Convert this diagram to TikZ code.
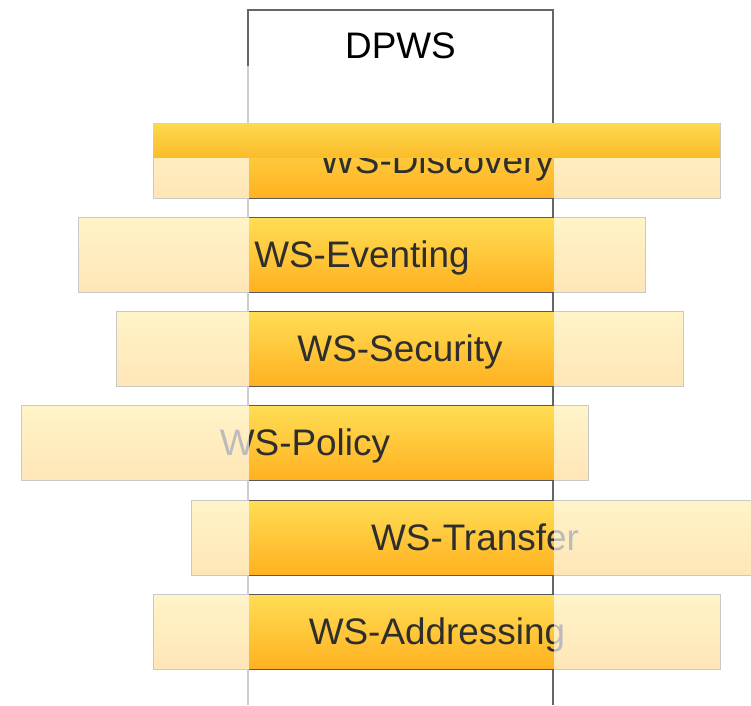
\documentclass[tikz,border=0pt]{standalone}
\usepackage{fontspec}
\setmainfont{Liberation Sans}
\usepackage{tikz}
\usetikzlibrary{positioning}

\definecolor{bartop}{HTML}{FFDD55}
\definecolor{barbot}{HTML}{FFB11F}
\definecolor{bandtop}{HTML}{FDD94F}
\definecolor{bandbot}{HTML}{FBBD2A}
\definecolor{bartext}{HTML}{2E2E2E}

\tikzset{
  layer/.style={draw=black!65, line width=0.5pt, top color=bartop, bottom color=barbot,
    minimum width=11.34cm, minimum height=1.5cm, anchor=south west, inner sep=0pt,
    text height=15.1pt, text depth=1pt,
    text=bartext, font=\fontsize{21}{25}\selectfont},
  veil/.style={white, opacity=0.68}
}

\begin{document}
\begin{tikzpicture}
    \useasboundingbox (0,0) rectangle (15.02,14.1);

    % stack column
    \draw[black!60, line width=0.6pt] (4.96,0) |- (11.06,13.9) -- (11.06,0);
    \node[font=\fontsize{21}{25}\selectfont] (dpws) at (8.01,13.18) {DPWS};

    % protocol layers
    \node[layer] (disc) at (3.06,10.12) {WS-Discovery};
    \node[layer] (event) at (1.56,8.24) {WS-Eventing};
    \node[layer] (sec) at (2.32,6.36) {WS-Security};
    \node[layer] (pol) at (0.42,4.48) {WS-Policy};
    \node[layer] (trans) at (3.82,2.58) {WS-Transfer};
    \node[layer] (addr) at (3.06,0.70) {WS-Addressing};

    % fade everything outside the column
    \fill[veil] (-0.1,-0.1) rectangle (4.975,12.78);
    \fill[veil] (11.075,-0.1) rectangle (15.3,12.78);

    % band sliding in over the top layer
    \fill[top color=bandtop, bottom color=bandbot] (3.06,10.96) rectangle (14.4,11.64);

\end{tikzpicture}
\end{document}
